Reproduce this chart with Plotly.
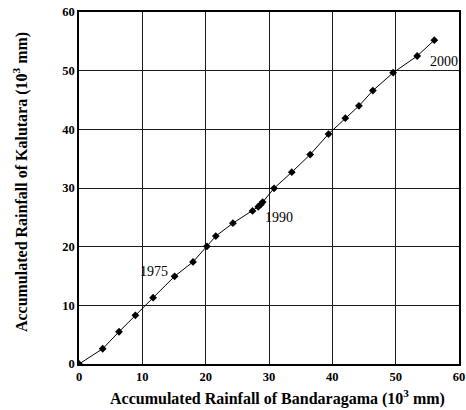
import plotly.graph_objects as go

# Double-mass curve: accumulated rainfall, Bandaragama (x) vs Kalutara (y), in 10^3 mm
bandaragama = [0.0, 3.74, 6.32, 8.9, 11.7, 15.1, 18.0, 20.2, 21.6, 24.3, 27.4,
               28.3, 28.7, 29.0, 30.8, 33.6, 36.5, 39.4, 42.05, 44.2, 46.4,
               49.6, 53.4, 56.1]
kalutara = [0.0, 2.6, 5.5, 8.3, 11.3, 14.95, 17.4, 20.06, 21.8, 24.0, 26.1,
            26.8, 27.2, 27.6, 29.95, 32.7, 35.7, 39.2, 41.9, 44.0, 46.6,
            49.65, 52.5, 55.2]

year_labels = ["1975", "1990", "2000"]
year_label_x = [14.4, 29.05, 55.1]
year_label_y = [15.7, 25.05, 51.5]
year_label_anchor = ["right", "left", "left"]

x_ticks = [0, 10, 20, 30, 40, 50, 60]
y_ticks = [0, 10, 20, 30, 40, 50, 60]

x_title = "Accumulated Rainfall of Bandaragama (10<sup>3</sup> mm)"
y_title = "Accumulated Rainfall of Kalutara (10<sup>3</sup> mm)"

serif = "Liberation Serif"

fig = go.Figure()
fig.add_trace(go.Scatter(
    x=bandaragama, y=kalutara,
    mode="lines+markers",
    line=dict(color="black", width=1),
    marker=dict(symbol="diamond", size=6, color="black"),
    showlegend=False,
))

for txt, xv, yv, anc in zip(year_labels, year_label_x, year_label_y, year_label_anchor):
    fig.add_annotation(x=xv, y=yv, text=txt, showarrow=False,
                       xanchor=anc, yanchor="middle",
                       font=dict(family=serif, size=14, color="black"))

# axis titles placed as paper-anchored text
title_font = dict(family=serif, size=16, color="black", weight="bold")
fig.add_annotation(xref="paper", yref="paper", x=0.523, y=-0.094,
                   text=x_title, showarrow=False,
                   xanchor="center", yanchor="middle", font=title_font)
fig.add_annotation(xref="paper", yref="paper", x=-0.155, y=0.517,
                   text=y_title, showarrow=False, textangle=-90,
                   xanchor="center", yanchor="middle", font=title_font)

axis_common = dict(
    showgrid=True, gridcolor="#1a1a1a", gridwidth=1.2,
    showline=True, linecolor="black", linewidth=1.5, mirror=True,
    zeroline=False, ticks="", automargin=False,
    tickfont=dict(family=serif, size=12.5, color="black", weight="bold"),
)

fig.update_layout(
    width=466, height=410,
    margin=dict(l=79, r=7, t=12, b=46),
    paper_bgcolor="white", plot_bgcolor="white",
    font=dict(family=serif),
    xaxis=dict(range=[0, 60], tickvals=x_ticks, **axis_common),
    yaxis=dict(range=[0, 60], tickvals=y_ticks, **axis_common),
)

fig.write_html("out.html")
